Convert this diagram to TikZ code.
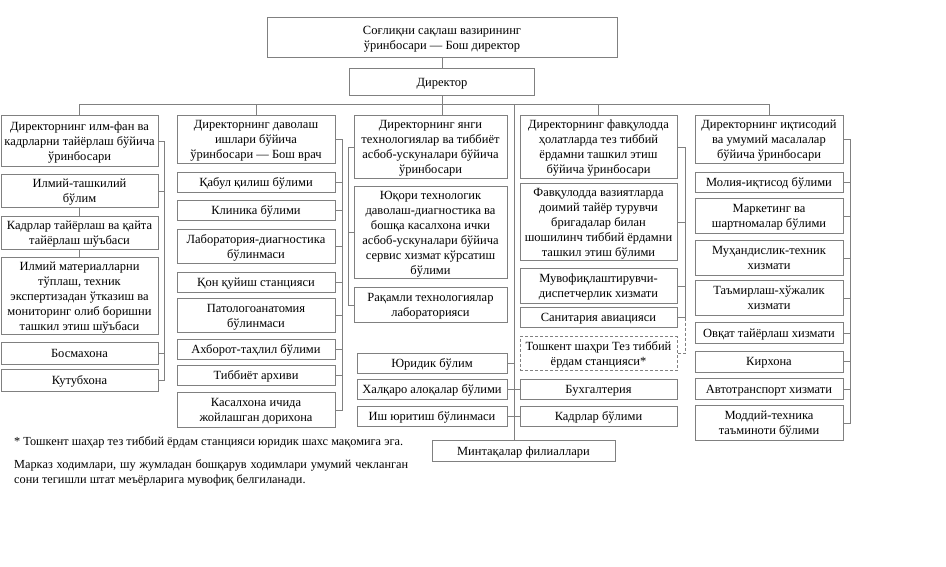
\documentclass[tikz,border=0pt]{standalone}
\usepackage{fontspec}
\setmainfont{Liberation Serif}
\begin{document}
\begin{tikzpicture}[x=1pt,y=-1pt,
  box/.style={draw=black!50, line width=0.8pt, inner sep=1pt, align=center,
    font=\fontsize{12.5}{15}\selectfont, text=black, text depth=0pt},
  dbox/.style={box, densely dashed},
  ln/.style={draw=black!50, line width=0.8pt},
  dln/.style={ln, densely dashed},
  note/.style={inner sep=0pt, font=\fontsize{12.3}{15}\selectfont, text=black}]
\useasboundingbox (0,0) rectangle (946,566);
\fill[white] (0,0) rectangle (946,566);
% top
\node[box, minimum width=350pt, minimum height=40pt] (top) at (442,37.5) {Соғлиқни сақлаш вазирининг\\ўринбосари — Бош директор};
\node[box, minimum width=185pt, minimum height=27pt] (dir) at (442,82) {Директор};
% column 1
\begin{scope}[every node/.append style={box, minimum width=157pt}]
\node[minimum height=51pt] (a0) at (79.5,141) {Директорнинг илм-фан ва\\кадрларни тайёрлаш бўйича\\ўринбосари};
\node[minimum height=33pt] (a1) at (79.5,191) {Илмий-ташкилий\\бўлим};
\node[minimum height=33pt] (a2) at (79.5,233) {Кадрлар тайёрлаш ва қайта\\тайёрлаш шўъбаси};
\node[minimum height=77pt] (a3) at (79.5,296) {Илмий материалларни\\тўплаш, техник\\экспертизадан ўтказиш ва\\мониторинг олиб боришни\\ташкил этиш шўъбаси};
\node[minimum height=22pt] (a4) at (79.5,353.5) {Босмахона};
\node[minimum height=22pt] (a5) at (79.5,380.5) {Кутубхона};
\end{scope}
% column 2
\begin{scope}[every node/.append style={box, minimum width=158pt}]
\node[minimum height=48pt] (b0) at (256,139.5) {Директорнинг даволаш\\ишлари бўйича\\ўринбосари — Бош врач};
\node[minimum height=20pt] (b1) at (256,182.5) {Қабул қилиш бўлими};
\node[minimum height=20pt] (b2) at (256,210.5) {Клиника бўлими};
\node[minimum height=34pt] (b3) at (256,246.5) {Лаборатория-диагностика\\бўлинмаси};
\node[minimum height=20pt] (b4) at (256,282) {Қон қуйиш станцияси};
\node[minimum height=34pt] (b5) at (256,315.5) {Патологоанатомия\\бўлинмаси};
\node[minimum height=20pt] (b6) at (256,349) {Ахборот-таҳлил бўлими};
\node[minimum height=20pt] (b7) at (256,375) {Тиббиёт архиви};
\node[minimum height=35pt] (b8) at (256,410) {Касалхона ичида\\жойлашган дорихона};
\end{scope}
% column 3
\begin{scope}[every node/.append style={box, minimum width=153pt}]
\node[minimum height=63pt] (c0) at (430.5,147) {Директорнинг янги\\технологиялар ва тиббиёт\\асбоб-ускуналари бўйича\\ўринбосари};
\node[minimum height=92pt] (c1) at (430.5,232.5) {Юқори технологик\\даволаш-диагностика ва\\бошқа касалхона ички\\асбоб-ускуналари бўйича\\сервис хизмат кўрсатиш\\бўлими};
\node[minimum height=35pt] (c2) at (430.5,305) {Рақамли технологиялар\\лабораторияси};
\end{scope}
\begin{scope}[every node/.append style={box, minimum width=150pt, minimum height=20pt}]
\node (m1) at (432,363.5) {Юридик бўлим};
\node (m2) at (432,389.5) {Халқаро алоқалар бўлими};
\node (m3) at (432,416.5) {Иш юритиш бўлинмаси};
\end{scope}
% column 4
\begin{scope}[every node/.append style={box, minimum width=157pt}]
\node[minimum height=63pt] (d0) at (598.5,147) {Директорнинг фавқулодда\\ҳолатларда тез тиббий\\ёрдамни ташкил этиш\\бўйича ўринбосари};
\node[minimum height=77pt] (d1) at (598.5,222) {Фавқулодда вазиятларда\\доимий тайёр турувчи\\бригадалар билан\\шошилинч тиббий ёрдамни\\ташкил этиш бўлими};
\node[minimum height=35pt] (d2) at (598.5,286) {Мувофиқлаштирувчи-\\диспетчерлик хизмати};
\node[minimum height=20pt] (d3) at (598.5,317.5) {Санитария авиацияси};
\node[dbox, minimum height=34pt] (d4) at (598.5,353.5) {Тошкент шаҳри Тез тиббий\\ёрдам станцияси*};
\node[minimum height=20pt] (d5) at (598.5,389.5) {Бухгалтерия};
\node[minimum height=20pt] (d6) at (598.5,416.5) {Кадрлар бўлими};
\end{scope}
% column 5
\begin{scope}[every node/.append style={box, minimum width=148pt}]
\node[minimum height=48pt] (e0) at (769,139.5) {Директорнинг иқтисодий\\ва умумий масалалар\\бўйича ўринбосари};
\node[minimum height=20pt] (e1) at (769,182.5) {Молия-иқтисод бўлими};
\node[minimum height=35pt] (e2) at (769,216) {Маркетинг ва\\шартномалар бўлими};
\node[minimum height=35pt] (e3) at (769,258) {Муҳандислик-техник\\хизмати};
\node[minimum height=35pt] (e4) at (769,298) {Таъмирлаш-хўжалик\\хизмати};
\node[minimum height=21pt] (e5) at (769,333) {Овқат тайёрлаш хизмати};
\node[minimum height=21pt] (e6) at (769,361.5) {Кирхона};
\node[minimum height=21pt] (e7) at (769,389) {Автотранспорт хизмати};
\node[minimum height=35pt] (e8) at (769,423) {Моддий-техника\\таъминоти бўлими};
\end{scope}
\node[box, minimum width=183pt, minimum height=21pt] (reg) at (523.5,451) {Минтақалар филиаллари};
% notes
\node[note, anchor=west] (n1) at (14,442.5) {* Тошкент шаҳар тез тиббий ёрдам станцияси юридик шахс мақомига эга.};
\node[note, anchor=north west, text width=394pt, align=justify] (n2) at (14,459) {Марказ ходимлари, шу жумладан бошқарув ходимлари умумий чекланган\linebreak сони тегишли штат меъёрларига мувофиқ белгиланади.};
% connectors: top
\coordinate (bus) at (0,104);
\coordinate (tr) at (514,104);
\draw[ln] (top.south) -- (dir.north);
\draw[ln] (dir.south) -- (dir.south |- c0.north);
\draw[ln] (a0.north) -- (a0.north |- bus) -- (e0.north |- bus) -- (e0.north);
\draw[ln] (b0.north) -- (b0.north |- bus);
\draw[ln] (d0.north) -- (d0.north |- bus);
\draw[ln] (tr) -- (tr |- reg.north);
% column 1 bracket
\coordinate (k1) at (164,0);
\draw[ln] (a0.east) -- (a0.east -| k1) -- (a5.east -| k1) -- (a5.east);
\foreach \n in {a1,a4} \draw[ln] (\n.east) -- (\n.east -| k1);
\draw[ln] (a1.south) -- (a2.north);
\draw[ln] (a2.south) -- (a3.north);
% column 2 bracket
\coordinate (k2) at (342,0);
\draw[ln] (b0.east) -- (b0.east -| k2) -- (b8.east -| k2) -- (b8.east);
\foreach \n in {b1,b2,b3,b4,b5,b6,b7} \draw[ln] (\n.east) -- (\n.east -| k2);
% column 3 bracket
\coordinate (k3) at (348,0);
\draw[ln] (c0.west) -- (c0.west -| k3) -- (c2.west -| k3) -- (c2.west);
\draw[ln] (c1.west) -- (c1.west -| k3);
% middle
\draw[ln] (m1.east) -- (m1.east -| tr);
\draw[ln] (m2.east) -- (d5.west);
\draw[ln] (m3.east) -- (d6.west);
% column 4 bracket
\coordinate (k4) at (685,0);
\draw[ln] (d0.east) -- (d0.east -| k4) -- (d3.east -| k4);
\foreach \n in {d1,d2,d3} \draw[ln] (\n.east) -- (\n.east -| k4);
\draw[dln] (d3.east -| k4) -- (d4.east -| k4) -- (d4.east);
% column 5 bracket
\coordinate (k5) at (850,0);
\draw[ln] (e0.east) -- (e0.east -| k5) -- (e8.east -| k5) -- (e8.east);
\foreach \n in {e1,e2,e3,e4,e5,e6,e7} \draw[ln] (\n.east) -- (\n.east -| k5);
\end{tikzpicture}
\end{document}
